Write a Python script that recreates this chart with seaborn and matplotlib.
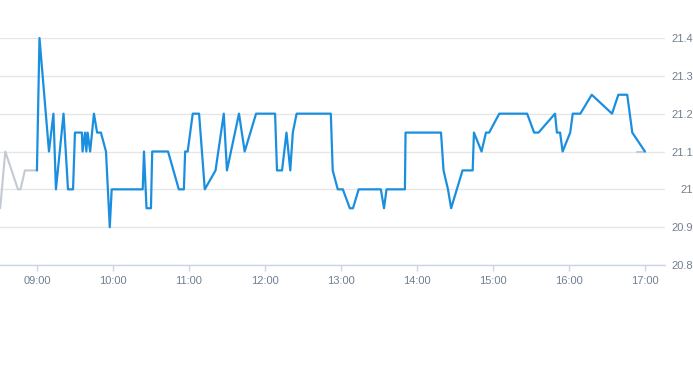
import pandas as pd
import matplotlib
matplotlib.use("Agg")
import matplotlib.pyplot as plt
import matplotlib.dates as mdates
import seaborn as sns

# --- data ---
DAY = "2024-01-02 "

# grey part (outside session)
pre_times = ["08:31", "08:35", "08:45", "08:47", "08:50:30", "09:00"]
pre_values = [20.95, 21.1, 21.0, 21.0, 21.05, 21.05]

post_times = ["16:54", "17:00"]
post_values = [21.1, 21.1]

# blue part (session)
times = [
    "09:00", "09:02", "09:09:30", "09:13", "09:15", "09:21", "09:24:30", "09:28:30",
    "09:30", "09:35:30", "09:36", "09:38", "09:39", "09:40", "09:42", "09:45",
    "09:47:30", "09:50:30", "09:54:30", "09:57:30", "09:59", "10:23:30", "10:24:30",
    "10:26:30", "10:30", "10:31", "10:43:30", "10:52", "10:56", "10:57", "10:59",
    "11:03", "11:08", "11:12:30", "11:21", "11:27:30", "11:30", "11:39:30", "11:44",
    "11:53", "12:08", "12:09:30", "12:13:30", "12:17", "12:20", "12:22", "12:25",
    "12:52", "12:53:30", "12:57:30", "13:01:30", "13:07", "13:09:30", "13:14",
    "13:31:30", "13:34", "13:36", "13:50:30", "13:51", "14:19", "14:21", "14:24:30",
    "14:27", "14:36", "14:44", "14:45", "14:51", "14:54:30", "14:57", "15:05",
    "15:27", "15:32:30", "15:36", "15:49", "15:50:30", "15:53", "15:55", "16:01",
    "16:03", "16:09", "16:18", "16:34", "16:39", "16:46", "16:50", "17:00",
]
values = [
    21.05, 21.4, 21.1, 21.2, 21.0, 21.2, 21.0, 21.0,
    21.15, 21.15, 21.1, 21.15, 21.1, 21.15, 21.1, 21.2,
    21.15, 21.15, 21.1, 20.9, 21.0, 21.0, 21.1,
    20.95, 20.95, 21.1, 21.1, 21.0, 21.0, 21.1, 21.1,
    21.2, 21.2, 21.0, 21.05, 21.2, 21.05, 21.2, 21.1,
    21.2, 21.2, 21.05, 21.05, 21.15, 21.05, 21.15, 21.2,
    21.2, 21.05, 21.0, 21.0, 20.95, 20.95, 21.0,
    21.0, 20.95, 21.0, 21.0, 21.15, 21.15, 21.05, 21.0,
    20.95, 21.05, 21.05, 21.15, 21.1, 21.15, 21.15, 21.2,
    21.2, 21.15, 21.15, 21.2, 21.15, 21.15, 21.1, 21.15,
    21.2, 21.2, 21.25, 21.2, 21.25, 21.25, 21.15, 21.1,
]

y_ticks = [20.8, 20.9, 21.0, 21.1, 21.2, 21.3, 21.4]

BLUE = "#1b8fdf"
GREY = "#c4cad2"
GRID = "#e6e6e6"
AXIS = "#ccd6eb"
LABEL = "#707f8f"


def to_df(t, v):
    stamps = pd.to_datetime([DAY + s for s in t], format="mixed")
    return pd.DataFrame({"time": stamps, "value": v})


df_pre = to_df(pre_times, pre_values)
df_post = to_df(post_times, post_values)
df = to_df(times, values)

sns.set_theme(style="white")
plt.rcParams["font.family"] = ["Liberation Sans", "DejaVu Sans"]

fig = plt.figure(figsize=(6.93, 3.65), dpi=100)
ax = fig.add_axes([0.0, 100 / 365, 665 / 693, 227 / 365])

sns.lineplot(data=df_pre, x="time", y="value", color=GREY, linewidth=1.5,
             estimator=None, ax=ax)
sns.lineplot(data=df_post, x="time", y="value", color=GREY, linewidth=1.5,
             estimator=None, ax=ax)
sns.lineplot(data=df, x="time", y="value", color=BLUE, linewidth=1.6,
             estimator=None, ax=ax)
for ln in ax.lines:
    ln.set_clip_on(False)
    ln.set_solid_joinstyle("round")

ax.set_xlim(pd.Timestamp(DAY + "08:30:50"), pd.Timestamp(DAY + "17:15:50"))
ax.set_ylim(20.8, 21.4)

ax.xaxis.set_major_locator(mdates.HourLocator())
ax.xaxis.set_major_formatter(mdates.DateFormatter("%H:%M"))
ax.set_yticks(y_ticks)
ax.set_yticklabels([f"{v:g}" for v in y_ticks])

ax.yaxis.tick_right()
ax.tick_params(axis="y", length=0, pad=20, labelsize=8, labelcolor=LABEL)
for lab in ax.get_yticklabels():
    lab.set_horizontalalignment("right")
ax.tick_params(axis="x", bottom=True, length=4, width=1, color=AXIS,
               pad=4, labelsize=8, labelcolor=LABEL)

ax.grid(axis="y", color=GRID, linewidth=1)
ax.grid(axis="x", visible=False)
for side in ["top", "left", "right"]:
    ax.spines[side].set_visible(False)
ax.spines["bottom"].set_color(AXIS)
ax.spines["bottom"].set_linewidth(1)
ax.set_axisbelow(True)
ax.set_xlabel("")
ax.set_ylabel("")

fig.savefig("out.png", dpi=100)
